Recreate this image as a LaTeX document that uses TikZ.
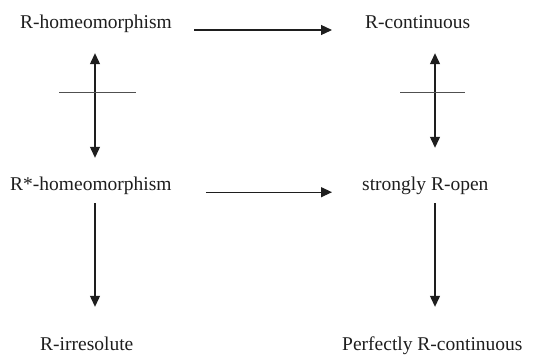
\documentclass[tikz,border=0pt]{standalone}
\usepackage{fontspec}
\setmainfont{Liberation Serif}
\usepackage{xcolor}
\definecolor{ink}{RGB}{30, 30, 30}
\definecolor{barcol}{RGB}{80, 80, 80}
\usetikzlibrary{arrows.meta}

\begin{document}
\begin{tikzpicture}[x=1pt, y=-1pt, >={Triangle[length=11pt,width=10pt]},
    term/.style={anchor=base west, inner sep=0pt, text height=14pt, text depth=5pt,
                 font=\fontsize{19.5}{22}\selectfont, text=ink},
    arr/.style={->, line width=1.2pt, draw=ink},
    dbl/.style={<->, line width=1.2pt, draw=ink},
    bar/.style={line width=1pt, draw=barcol}]
    \useasboundingbox (0,0) rectangle (537,356);

    % The six notions
    \node[term] (rhomeo) at (20,28) {R-homeomorphism};
    \node[term] (rcont)  at (365,28) {R-continuous};
    \node[term] (rstar)  at (10,190.7) {R*-homeomorphism};
    \node[term] (sopen)  at (362,190.7) {strongly R-open};
    \node[term] (rirr)   at (40,350.5) {R-irresolute};
    \node[term] (pcont)  at (342,350.5) {Perfectly R-continuous};

    % Columns of the vertical arrows
    \coordinate (lx) at (95,0);
    \coordinate (rx) at (435,0);

    % Implications
    \draw[arr, shorten <=22pt, shorten >=33pt] ([yshift=-2pt]rhomeo.base east) -- ([yshift=-2pt]rcont.base west);
    \draw[arr, shorten <=34pt, shorten >=30pt] ([yshift=-1.5pt]rstar.base east) -- ([yshift=-1.5pt]sopen.base west);
    \draw[arr, shorten <=7.3pt, shorten >=29.5pt] (rstar.south -| lx) -- (rirr.north -| lx);
    \draw[arr, shorten <=7.3pt, shorten >=29.5pt] (sopen.south -| rx) -- (pcont.north -| rx);

    % Non-implications (crossed double arrows)
    \draw[dbl, shorten <=20pt, shorten >=18.7pt] (rhomeo.south -| lx) -- (rstar.north -| lx);
    \draw[dbl, shorten <=20pt, shorten >=28.7pt] (rcont.south -| rx) -- (sopen.north -| rx);
    \draw[bar] (59,92) -- (136,92);
    \draw[bar] (400,92) -- (465,92);
\end{tikzpicture}
\end{document}
